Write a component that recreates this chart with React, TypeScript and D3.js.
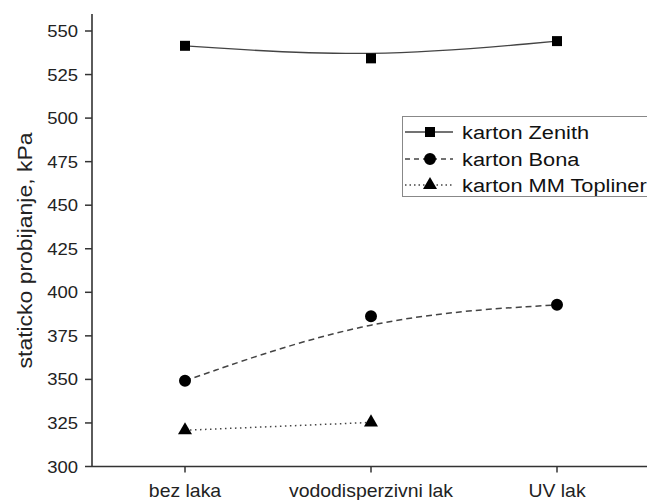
import React from "react";
import * as d3 from "d3";

const categories = ["bez laka", "vododisperzivni lak", "UV lak"];
const zenith = [541.5, 534.3, 544.2];
const bona = [349.2, 386.2, 392.8];
const topliner = [320.8, 325.3];
const yTicks = [300, 325, 350, 375, 400, 425, 450, 475, 500, 525, 550];
const seriesNames = ["karton Zenith", "karton Bona", "karton MM Topliner"];

const W = 647;
const H = 500;
const FONT = "'Liberation Sans', Arial, sans-serif";

export default function App() {
  const x = d3.scaleBand<string>().domain(categories).range([92, 650]).padding(0);
  const cx = (c: string) => (x(c) as number) + x.bandwidth() / 2;
  const y = d3.scaleLinear().domain([300, 550]).range([466.5, 31]);

  const basis = d3
    .line<number>()
    .x((_, i) => cx(categories[i]))
    .y((d) => y(d))
    .curve(d3.curveBasis);
  const straight = d3
    .line<number>()
    .x((_, i) => cx(categories[i]))
    .y((d) => y(d));

  const sq = d3.symbol(d3.symbolSquare, 100)() as string;
  const circ = d3.symbol(d3.symbolCircle, 113)() as string;
  const tri = d3.symbol(d3.symbolTriangle, 85)() as string;

  const axisColor = "#333";
  const lineColor = "#444";

  const legendY = [132, 159, 185];
  const legendStyles = [
    { dash: undefined, marker: sq },
    { dash: "5 4", marker: circ },
    { dash: "1.5 3", marker: tri },
  ];

  return (
    <svg
      width={W}
      height={H}
      style={{ position: "absolute", left: 0, top: 0, background: "#fff" }}
      fontFamily={FONT}
    >
      <rect x={0} y={0} width={W} height={H} fill="#fff" />
      {/* series lines */}
      <path d={basis(zenith) as string} fill="none" stroke={lineColor} strokeWidth={1.3} />
      <path
        d={basis(bona) as string}
        fill="none"
        stroke={lineColor}
        strokeWidth={1.5}
        strokeDasharray="6 4"
      />
      <path
        d={straight(topliner) as string}
        fill="none"
        stroke={lineColor}
        strokeWidth={1.5}
        strokeDasharray="1.5 3.5"
      />
      {/* markers */}
      {zenith.map((v, i) => (
        <path key={"z" + i} d={sq} transform={`translate(${cx(categories[i])},${y(v)})`} fill="#000" />
      ))}
      {bona.map((v, i) => (
        <path key={"b" + i} d={circ} transform={`translate(${cx(categories[i])},${y(v)})`} fill="#000" />
      ))}
      {topliner.map((v, i) => (
        <path key={"t" + i} d={tri} transform={`translate(${cx(categories[i])},${y(v)})`} fill="#000" />
      ))}

      {/* y axis */}
      <line x1={92} x2={92} y1={y(300)} y2={y(559.8)} stroke={axisColor} strokeWidth={1.6} />
      {yTicks.map((t) => (
        <g key={t} transform={`translate(0,${y(t)})`}>
          <line x1={85} x2={92} stroke={axisColor} strokeWidth={1.5} />
          <text
            transform={`translate(78,6) scale(1.12,1)`}
            textAnchor="end"
            fontSize={16.5}
            fill="#222"
          >
            {t}
          </text>
        </g>
      ))}
      <text
        transform={`translate(32,250.5) rotate(-90) scale(1.12,1)`}
        textAnchor="middle"
        fontSize={20.5}
        fill="#222"
      >
        staticko probijanje, kPa
      </text>

      {/* x axis */}
      <line x1={92} x2={W} y1={y(300)} y2={y(300)} stroke={axisColor} strokeWidth={1.6} />
      {categories.map((c) => (
        <g key={c} transform={`translate(${cx(c)},${y(300)})`}>
          <line y1={0} y2={6} stroke={axisColor} strokeWidth={1.5} />
          <text transform={`translate(0,30) scale(1.08,1)`} textAnchor="middle" fontSize={18} fill="#222">
            {c}
          </text>
        </g>
      ))}

      {/* legend */}
      <rect x={402.5} y={116.5} width={270} height={80} fill="#fff" stroke="#888" strokeWidth={1} />
      {seriesNames.map((n, i) => (
        <g key={n} transform={`translate(0,${legendY[i]})`}>
          <line
            x1={405}
            x2={453}
            stroke={lineColor}
            strokeWidth={1.4}
            strokeDasharray={legendStyles[i].dash}
          />
          <path d={legendStyles[i].marker} transform="translate(430,0)" fill="#000" />
          <text transform="translate(462,6.5) scale(1.21,1)" fontSize={18} fill="#111">
            {n}
          </text>
        </g>
      ))}
    </svg>
  );
}
